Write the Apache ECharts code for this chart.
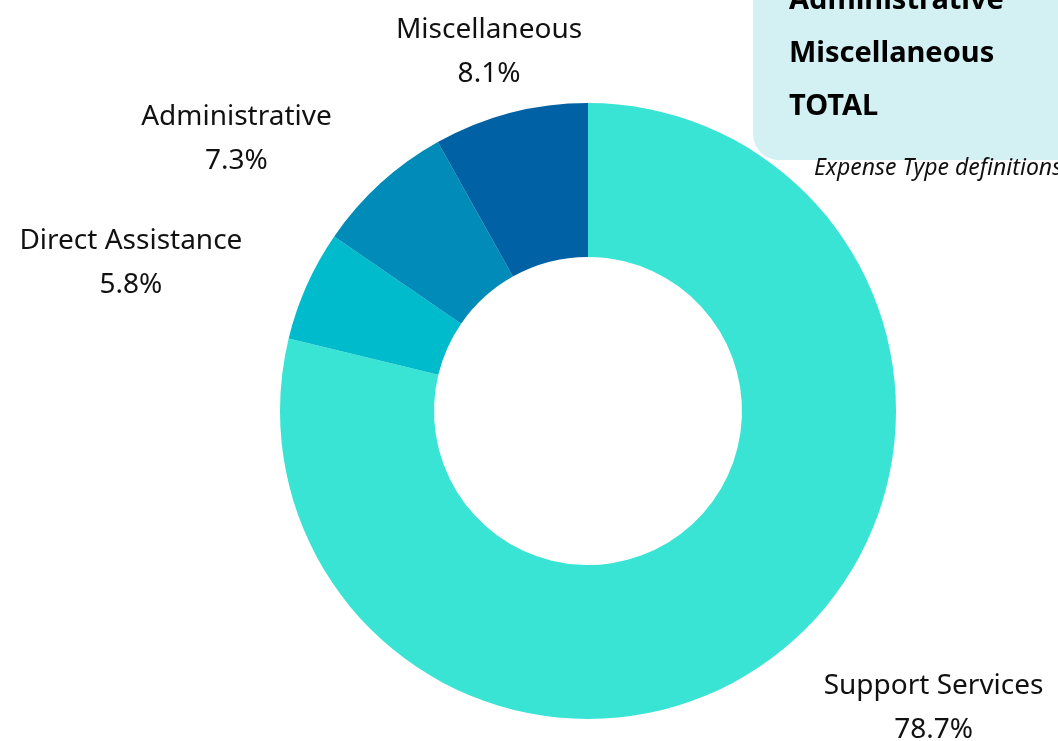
<!DOCTYPE html>
<html>
<head>
<meta charset="utf-8">
<script src="https://cdn.jsdelivr.net/npm/echarts@6/dist/echarts.min.js"></script>
<style>
html,body{margin:0;padding:0;background:#fff;}
#chart{width:1058px;height:741px;}
</style>
</head>
<body>
<div id="chart"></div>
<script>
const categories = ['Support Services', 'Direct Assistance', 'Administrative', 'Miscellaneous'];
const percentages = [78.7, 5.8, 7.3, 8.1];
const sliceColors = ['#3AE4D5', '#00BBCC', '#008BB9', '#0062A5'];
const boxLines = ['Administrative', 'Miscellaneous', 'TOTAL'];
const noteText = 'Expense Type definitions';

const FONT = '"Noto Sans", Lato, sans-serif';
const chart = echarts.init(document.getElementById('chart'), null, {renderer: 'canvas'});

const data = categories.map((c, i) => ({
  name: c,
  value: percentages[i],
  itemStyle: {color: sliceColors[i]}
}));

chart.setOption({
  animation: false,
  backgroundColor: '#ffffff',
  series: [{
    type: 'pie',
    center: [588, 411],
    radius: [154, 308],
    startAngle: 90,
    clockwise: true,
    avoidLabelOverlap: false,
    data: data,
    itemStyle: {borderWidth: 0},
    label: {
      show: true,
      position: 'outside',
      formatter: function (p) { return '{a|' + p.name + '}\n{a|' + p.value.toFixed(1) + '%}'; },
      rich: {
        a: {fontFamily: FONT, fontSize: 28, color: '#111', lineHeight: 44, align: 'center'}
      }
    },
    labelLine: {show: false, length: 65, length2: 0},
    labelLayout: function (p) {
      return p.dataIndex === 3 ? {align: 'center', dy: 2} : {dy: 4};
    },
    emphasis: {disabled: true}
  }],
  graphic: [
    {
      type: 'rect', left: 753, top: -40, z: 10,
      shape: {width: 360, height: 200, r: 26},
      style: {fill: '#D3F0F3'}
    },
    ...boxLines.map((t, i) => ({
      type: 'text', left: 789, top: -14 + i * 53, z: 11,
      style: {text: t, font: 'bold 29px ' + FONT, fill: '#000'}
    })),
    {
      type: 'text', left: 814, top: 157, z: 11,
      style: {text: noteText, font: 'italic 23px ' + FONT, fill: '#111'}
    }
  ]
});
</script>
</body>
</html>
